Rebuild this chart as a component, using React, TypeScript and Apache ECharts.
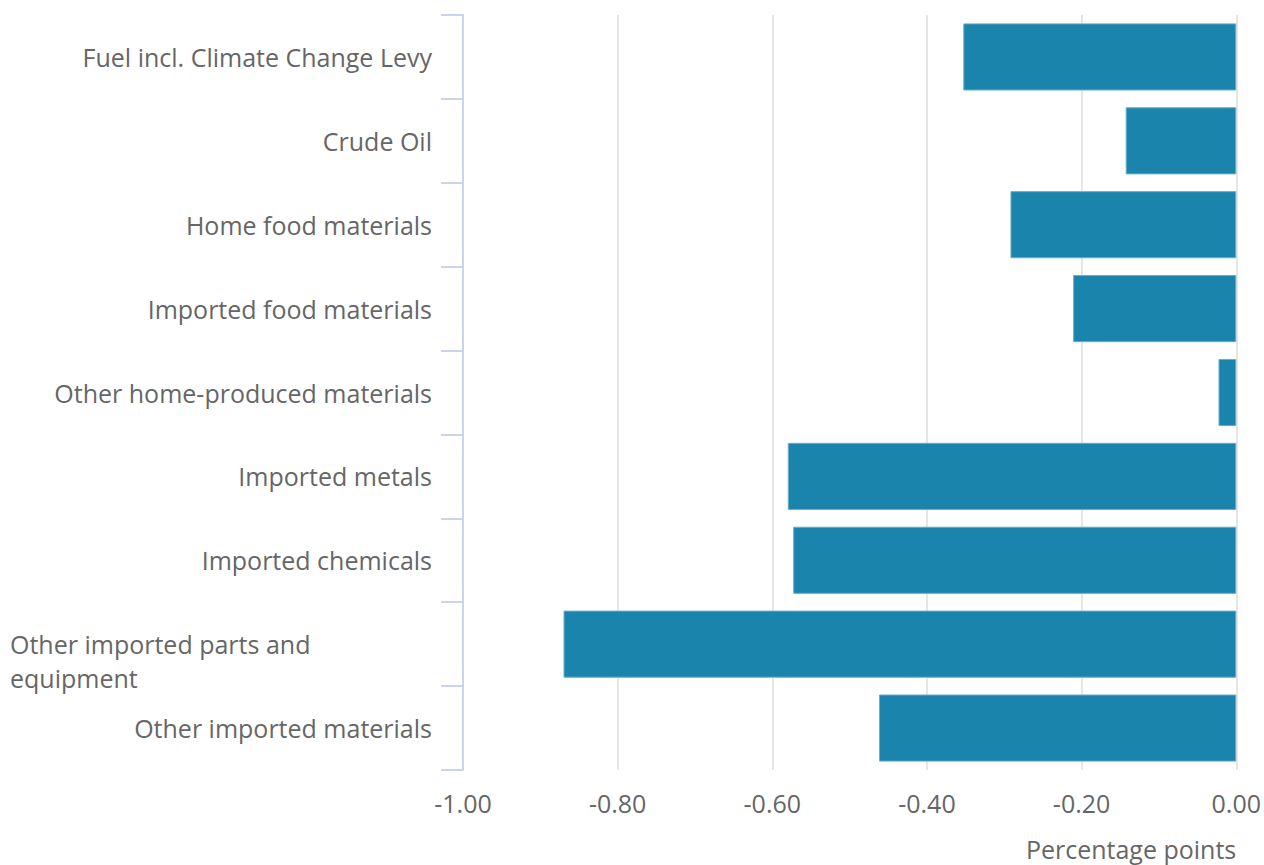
import React, { useEffect, useRef } from "react";
import * as echarts from "echarts";

const categories = [
  "Fuel incl. Climate Change Levy",
  "Crude Oil",
  "Home food materials",
  "Imported food materials",
  "Other home-produced materials",
  "Imported metals",
  "Imported chemicals",
  "Other imported parts and equipment",
  "Other imported materials",
];

const values = [-0.353, -0.143, -0.292, -0.211, -0.023, -0.58, -0.573, -0.87, -0.462];

const xTicks = { min: -1, max: 0, interval: 0.2 };

export default function App() {
  const ref = useRef<HTMLDivElement>(null);

  useEffect(() => {
    document.body.style.margin = "0";
    if (!ref.current) return;
    const chart = echarts.init(ref.current, null, { renderer: "svg" });
    chart.setOption({
      animation: false,
      backgroundColor: "#ffffff",
      textStyle: { fontFamily: "Open Sans" },
      grid: { left: 463, right: 20, top: 15, bottom: 95, containLabel: false },
      xAxis: {
        type: "value",
        min: xTicks.min,
        max: xTicks.max,
        interval: xTicks.interval,
        name: "Percentage points",
        nameLocation: "end",
        nameGap: 0,
        nameTextStyle: {
          color: "#666666",
          fontSize: 25,
          fontFamily: "Open Sans",
          align: "right",
          verticalAlign: "top",
          padding: [66, 0, 0, 0],
        },
        axisLine: { show: false },
        axisTick: { show: false },
        axisLabel: {
          color: "#666666",
          fontSize: 25,
          fontFamily: "Open Sans",
          margin: 20,
          formatter: (v: number) => v.toFixed(2),
        },
        splitLine: { show: true, lineStyle: { color: "#e6e6e6", width: 2 } },
      },
      yAxis: {
        type: "category",
        data: categories,
        inverse: true,
        position: "left",
        axisLine: { show: true, onZero: false, lineStyle: { color: "#c9d5ec", width: 2 } },
        axisTick: { show: true, length: 22, lineStyle: { color: "#c9d5ec", width: 2 } },
        axisLabel: {
          color: "#666666",
          fontSize: 25,
          fontFamily: "Open Sans",
          margin: 31,
          formatter: (v: string) => {
            if (v === "Other imported parts and equipment") {
              return "{s| }\n{l|Other imported parts and}\n{l|equipment}";
            }
            return v;
          },
          rich: {
            s: {
              width: 422,
              fontSize: 25,
              lineHeight: 34,
            },
            l: {
              width: 422,
              align: "left",
              color: "#666666",
              fontSize: 25,
              fontFamily: "Open Sans",
              lineHeight: 34,
            },
          },
        },
        splitLine: { show: false },
      },
      series: [
        {
          type: "bar",
          data: values,
          barCategoryGap: "20%",
          itemStyle: {
            color: "#1a84ac",
            borderColor: "#68adc9",
            borderWidth: 1,
          },
        },
      ],
    });
    return () => chart.dispose();
  }, []);

  return <div ref={ref} style={{ width: 1264, height: 865 }} />;
}
